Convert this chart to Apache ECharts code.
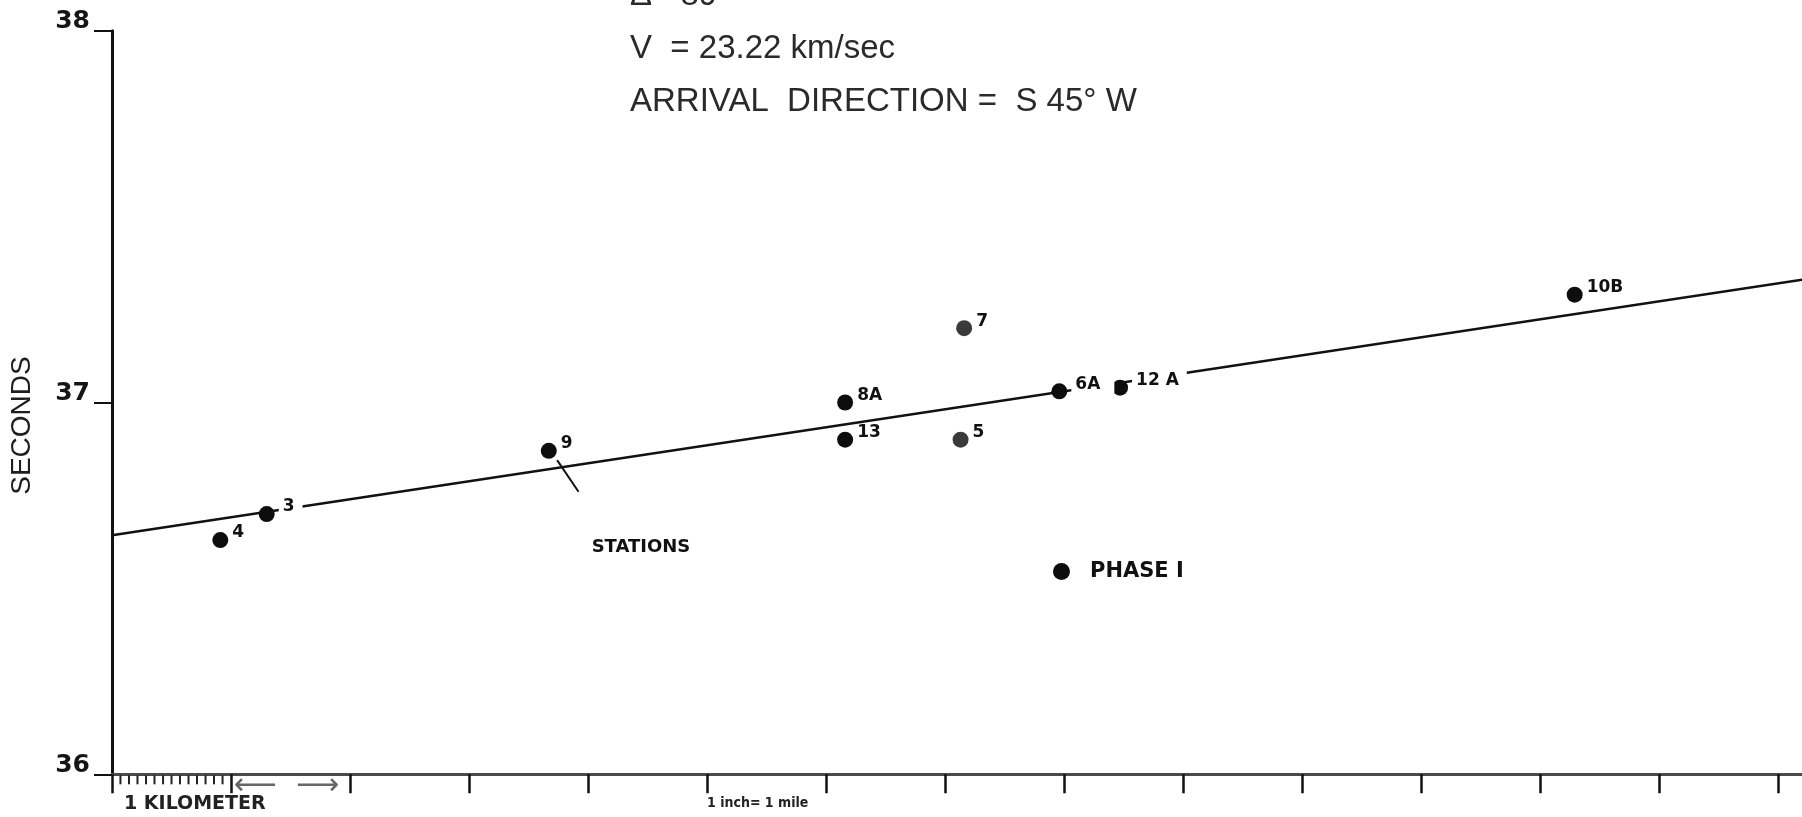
<!DOCTYPE html>
<html>
<head>
<meta charset="utf-8">
<title>Arrival time vs distance</title>
<script src="https://cdn.jsdelivr.net/npm/echarts@6/dist/echarts.min.js"></script>
<style>
html, body { margin: 0; padding: 0; background: #fff; }
#chart-container { width: 1802px; height: 817px; }
</style>
</head>
<body>
<div id="chart-container"></div>
<script>
// STATIONS (distance in miles, arrival time in seconds)
var stationNames = ['4', '3', '9', '8A', '13', '7', '5', '6A', '12 A', '10B'];
var stationDist = [0.91, 1.30, 3.67, 6.16, 6.16, 7.16, 7.13, 7.96, 8.47, 12.29];
var stationSecs = [36.63, 36.70, 36.87, 37.00, 36.90, 37.20, 36.90, 37.03, 37.04, 37.29];

// fitted line, its two ends
var fitDist = [0, 14.2];
var fitSecs = [36.643, 37.330];

// little pointer under station 9
var pointerDist = [3.74, 3.92];
var pointerSecs = [36.845, 36.76];

// STATIONS note
var noteDist = [4.03];
var noteSecs = [36.61];

// axis marks
var mileTicks = [0, 1, 2, 3, 4, 5, 6, 7, 8, 9, 10, 11, 12, 13, 14];
var labelTicks = [0, 5];
var kmTicks = [0.071, 0.143, 0.214, 0.286, 0.357, 0.429, 0.5, 0.571, 0.643, 0.714, 0.786, 0.857, 0.929];

var titleLines = ['\u0394= 89', 'V  = 23.22 km/sec', 'ARRIVAL  DIRECTION =  S 45\u00b0 W'];

var dom = document.getElementById('chart-container');
var myChart = echarts.init(dom, null, {
    renderer: 'canvas',
    useDirtyRect: false
});

var greyDots = ['7', '5'];
var gapLabels = { '3': [3, 8, 3, 4], '6A': [3, 14, 3, 4], '12 A': [3, 8, 3, 4] };

var stationData = stationNames.map(function (n, i) {
    var item = { name: n, value: [stationDist[i], stationSecs[i]] };
    if (greyDots.indexOf(n) >= 0) {
        item.itemStyle = { color: '#3a3a3a' };
    }
    if (gapLabels[n]) {
        item.label = { backgroundColor: '#ffffff', padding: gapLabels[n] };
    }
    return item;
});
var fitData = fitDist.map(function (d, i) { return [d, fitSecs[i]]; });

var option = {
    backgroundColor: '#ffffff',
    animation: false,
    title: {
        text: titleLines.join('\n'),
        left: 630,
        top: -31,
        padding: 0,
        textStyle: {
            fontFamily: 'Liberation Sans',
            fontSize: 33,
            fontWeight: 'normal',
            color: '#2a2a2a',
            lineHeight: 53
        }
    },
    legend: {
        data: ['PHASE I'],
        left: 1053,
        top: 561,
        padding: 0,
        itemWidth: 17,
        itemHeight: 17,
        itemStyle: { color: '#0d0d0d', opacity: 1 },
        textStyle: {
            fontFamily: 'DejaVu Sans',
            fontWeight: 'bold',
            fontSize: 21,
            color: '#111',
            padding: [0, 0, 0, 15]
        }
    },
    grid: {
        left: 101.7,
        right: 0,
        top: 30.7,
        bottom: 42.7,
        containLabel: false
    },
    xAxis: {
        type: 'value',
        min: 0,
        max: 14.2,
        splitLine: { show: false },
        axisLine: { lineStyle: { color: '#4a4a4a', width: 3 } },
        axisTick: {
            customValues: mileTicks,
            length: 19,
            lineStyle: { color: '#111', width: 2.5 }
        },
        axisLabel: {
            customValues: labelTicks,
            margin: 4,
            align: 'left',
            formatter: function (v) {
                if (v === 0) return '{arr|\u27f5  \u27f6}\n{km|1 KILOMETER}';
                if (v === 5) return '{gap|}\n{mi|1 inch= 1 mile}';
                return '';
            },
            rich: {
                arr: {
                    fontFamily: 'DejaVu Sans', fontSize: 30, color: '#666',
                    height: 16, padding: [0, 0, 0, 122]
                },
                gap: { height: 16 },
                km: {
                    fontFamily: 'DejaVu Sans', fontWeight: 'bold', fontSize: 19,
                    color: '#222', padding: [0, 0, 0, 12]
                },
                mi: {
                    fontFamily: 'DejaVu Sans Condensed', fontWeight: 'bold', fontSize: 14,
                    color: '#222', padding: [2, 0, 0, 0]
                }
            }
        }
    },
    yAxis: {
        type: 'value',
        min: 36,
        max: 38,
        interval: 1,
        name: 'SECONDS',
        nameLocation: 'middle',
        nameGap: 76,
        nameTextStyle: {
            fontFamily: 'Liberation Sans',
            fontSize: 28,
            color: '#1e1e1e',
            padding: [0, 46, 0, 0]
        },
        splitLine: { show: false },
        axisLine: { lineStyle: { color: '#111', width: 3 } },
        axisTick: { length: 18, lineStyle: { color: '#111', width: 2 } },
        axisLabel: {
            margin: 22,
            verticalAlign: 'bottom',
            lineHeight: 18,
            fontFamily: 'DejaVu Sans',
            fontWeight: 'bold',
            fontSize: 25,
            color: '#151515'
        }
    },
    series: [
        {
            name: 'fit',
            type: 'line',
            data: fitData,
            symbol: 'none',
            z: 1,
            lineStyle: { color: '#111', width: 2.5 },
            markLine: {
                silent: true,
                symbol: 'none',
                label: { show: false },
                lineStyle: { color: '#111', width: 2, type: 'solid' },
                data: [[
                    { coord: [pointerDist[0], pointerSecs[0]] },
                    { coord: [pointerDist[1], pointerSecs[1]] }
                ]]
            }
        },
        {
            name: 'PHASE I',
            type: 'scatter',
            data: stationData,
            symbol: 'circle',
            symbolSize: 16,
            z: 3,
            itemStyle: { color: '#0d0d0d', opacity: 1 },
            label: {
                show: true,
                position: 'right',
                distance: 4,
                offset: [0, -7],
                formatter: '{b}',
                fontFamily: 'DejaVu Sans',
                fontWeight: 'bold',
                fontSize: 17,
                color: '#111'
            }
        },
        {
            name: 'km',
            type: 'scatter',
            data: kmTicks.map(function (d) { return [d, 36]; }),
            symbol: 'rect',
            symbolSize: [2, 9],
            symbolOffset: [0, 5.5],
            clip: false,
            silent: true,
            itemStyle: { color: '#222', opacity: 1 }
        },
        {
            name: 'note',
            type: 'scatter',
            data: noteDist.map(function (d, i) { return { name: 'STATIONS', value: [d, noteSecs[i]] }; }),
            symbolSize: 0,
            silent: true,
            itemStyle: { opacity: 1 },
            label: {
                show: true,
                position: 'right',
                distance: 0,
                formatter: '{b}',
                fontFamily: 'DejaVu Sans',
                fontWeight: 'bold',
                fontSize: 18,
                color: '#111'
            }
        }
    ]
};

if (option && typeof option === 'object') {
    myChart.setOption(option);
}
</script>
</body>
</html>
